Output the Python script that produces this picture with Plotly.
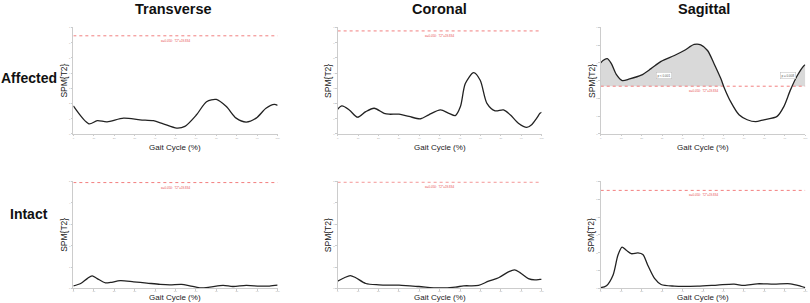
import plotly.graph_objects as go
import numpy as np

FONT = "Arial, Liberation Sans, sans-serif"

col_titles = ["Transverse", "Coronal", "Sagittal"]
row_titles = ["Affected", "Intact"]

# Affected row
trans_aff_x = [0, 7.6, 11.7, 16.5, 24.6, 32.7, 39.2, 44, 50.6, 54.6, 60.3, 65.2, 70, 74.9, 79.7, 84.6, 89.5, 94.3, 98.4, 100]
trans_aff_y = [1.84, 0.67, 0.87, 0.80, 1.04, 0.93, 0.87, 0.67, 0.39, 0.50, 1.26, 2.12, 2.27, 1.80, 1.04, 0.78, 1.04, 1.69, 1.95, 1.88]
trans_aff_thr = 6.45

cor_aff_x = [0, 2.1, 5.7, 9.8, 13.8, 17.9, 22.8, 25.2, 30.1, 35, 40.7, 44.7, 50.4, 54.5, 57.7, 60.2, 62.6, 66.7, 69.9, 73.2, 77.2, 81.3, 84.6, 88.6, 92.7, 95.1, 97.6, 99.2, 100]
cor_aff_y = [1.62, 1.84, 1.58, 1.10, 1.47, 1.69, 1.36, 1.30, 1.30, 1.15, 1.0, 1.26, 1.58, 1.36, 1.21, 1.80, 3.31, 4.03, 3.53, 2.01, 1.52, 1.58, 1.26, 0.71, 0.43, 0.61, 1.04, 1.36, 1.43]
cor_aff_thr = 6.77

sag_aff_x = [0, 1.1, 3.2, 5.2, 7.6, 10.5, 14.1, 19.8, 24.6, 29.5, 36, 40.8, 45.7, 48.9, 52.2, 55.4, 58.7, 60.3, 63.5, 67.6, 71.6, 75.7, 79.7, 86.2, 89.5, 92.7, 95.9, 99.2, 100]
sag_aff_y = [4.0, 4.14, 4.24, 3.96, 3.36, 3.01, 3.10, 3.31, 3.68, 4.09, 4.42, 4.70, 5.04, 5.02, 4.70, 3.96, 3.12, 2.62, 1.82, 1.08, 0.80, 0.69, 0.80, 0.99, 1.54, 2.47, 3.25, 3.83, 3.90]
sag_aff_thr = 2.69

# Intact row
trans_int_x = [0, 3.6, 6.8, 9.2, 11.7, 15.7, 18.2, 23, 29.5, 36, 42.5, 47.3, 53, 57, 61.9, 66.8, 73.3, 78.1, 84.6, 91.1, 96, 100]
trans_int_y = [0.12, 0.23, 0.46, 0.59, 0.46, 0.26, 0.28, 0.36, 0.31, 0.25, 0.19, 0.17, 0.19, 0.12, 0.03, 0.06, 0.14, 0.09, 0.14, 0.11, 0.11, 0.15]
trans_int_thr = 4.95

cor_int_x = [0, 3.3, 6.2, 8.9, 13.8, 20.3, 30.1, 39.8, 49.6, 57.7, 61.8, 69.1, 74, 78.9, 83.7, 86.7, 89.4, 93.5, 96.7, 99.2, 100]
cor_int_y = [0.34, 0.50, 0.60, 0.50, 0.23, 0.17, 0.15, 0.09, 0.02, 0.06, 0.12, 0.14, 0.34, 0.50, 0.77, 0.87, 0.74, 0.46, 0.40, 0.42, 0.42]
cor_int_thr = 4.97

sag_int_x = [0, 2.8, 6, 8.4, 10.4, 12.5, 14.9, 18.2, 20.6, 23, 26.3, 29.5, 36, 47.3, 57, 65.2, 70, 76.5, 84.6, 92.7, 97.6, 100]
sag_int_y = [0.04, 0.15, 0.74, 1.86, 2.32, 2.14, 1.95, 1.99, 1.90, 1.30, 0.56, 0.22, 0.13, 0.13, 0.19, 0.24, 0.17, 0.26, 0.24, 0.26, 0.13, 0.04]
sag_int_thr = 5.50

y_max = [[7, 7, 6], [5, 5, 6]]
x_ticks = [0, 10, 20, 30, 40, 50, 60, 70, 80, 90, 100]

thr_label = "α=0.050:  T2*=19.834"
cluster_labels = ["p < 0.001", "p = 0.008"]
cluster_label_x = [31, 91.6]

panels = [
    [(trans_aff_x, trans_aff_y, trans_aff_thr), (cor_aff_x, cor_aff_y, cor_aff_thr), (sag_aff_x, sag_aff_y, sag_aff_thr)],
    [(trans_int_x, trans_int_y, trans_int_thr), (cor_int_x, cor_int_y, cor_int_thr), (sag_int_x, sag_int_y, sag_int_thr)],
]

W, H = 810, 303
col_px = [(72.7, 278), (338.3, 543.3), (602.7, 808.3)]
row_px = [(26.7, 134.3), (182.3, 290.3)]
xtitle_off = [14, 9.6]

fig = go.Figure()
layout = dict(width=W, height=H, margin=dict(l=0, r=0, t=0, b=0),
              plot_bgcolor="white", paper_bgcolor="white", showlegend=False,
              font=dict(family=FONT))
annotations = []

idx = 0
for r in range(2):
    for c in range(3):
        idx += 1
        xs, ys, thr = panels[r][c]
        xa = "x" if idx == 1 else f"x{idx}"
        ya = "y" if idx == 1 else f"y{idx}"
        xkey = "xaxis" if idx == 1 else f"xaxis{idx}"
        ykey = "yaxis" if idx == 1 else f"yaxis{idx}"
        x0, x1 = col_px[c]
        y0, y1 = row_px[r]
        layout[xkey] = dict(domain=[x0 / W, x1 / W], range=[0, 100], anchor=ya,
                            showgrid=False, zeroline=False, showline=True,
                            linecolor="#cccccc", linewidth=1, ticks="outside",
                            ticklen=1.5, tickcolor="#cccccc", tickvals=x_ticks,
                            ticklabelstandoff=-2 if r == 1 else 0,
                            tickfont=dict(size=2.5, color="#aaa"))
        layout[ykey] = dict(domain=[1 - y1 / H, 1 - y0 / H], range=[0, y_max[r][c]],
                            anchor=xa, showgrid=False, zeroline=False, showline=True,
                            linecolor="#cccccc", linewidth=1, ticks="outside",
                            ticklen=1.5, tickcolor="#cccccc", dtick=1,
                            tickfont=dict(size=2.5, color="#aaa"))
        # suprathreshold fill (sagittal affected)
        if r == 0 and c == 2:
            xs_a = np.array(xs, float)
            ys_a = np.array(ys, float)
            fx, fy = [], []
            for i in range(len(xs_a)):
                if i > 0 and (ys_a[i - 1] - thr) * (ys_a[i] - thr) < 0:
                    t = (thr - ys_a[i - 1]) / (ys_a[i] - ys_a[i - 1])
                    fx.append(xs_a[i - 1] + t * (xs_a[i] - xs_a[i - 1]))
                    fy.append(thr)
                fx.append(xs_a[i])
                fy.append(max(ys_a[i], thr))
            fig.add_trace(go.Scatter(x=[0, 100], y=[thr, thr], mode="lines",
                                     line=dict(width=0), xaxis=xa, yaxis=ya,
                                     hoverinfo="skip"))
            fig.add_trace(go.Scatter(x=fx, y=fy, mode="lines",
                                     line=dict(width=0, shape="spline", smoothing=0.6),
                                     fill="tonexty", fillcolor="#d9d9d9",
                                     xaxis=xa, yaxis=ya, hoverinfo="skip"))
            for lab, lx in zip(cluster_labels, cluster_label_x):
                annotations.append(dict(x=lx, y=thr + 0.6, xref=xa, yref=ya,
                                        text=lab, showarrow=False, xanchor="center",
                                        font=dict(size=3, color="#555"),
                                        bgcolor="white", bordercolor="#bbb",
                                        borderwidth=0.5, borderpad=1))
        # threshold
        fig.add_trace(go.Scatter(x=[0, 100], y=[thr, thr], mode="lines",
                                 line=dict(color="#f07070", width=0.9, dash="dot"),
                                 xaxis=xa, yaxis=ya, hoverinfo="skip"))
        annotations.append(dict(x=50, y=thr, xref=xa, yref=ya, text=thr_label,
                                showarrow=False, yshift=-5, xanchor="center",
                                font=dict(size=3, color="#e85050")))
        # SPM curve
        fig.add_trace(go.Scatter(x=xs, y=ys, mode="lines",
                                 line=dict(color="#222", width=1.3, shape="spline", smoothing=0.8),
                                 xaxis=xa, yaxis=ya))
        # axis titles
        annotations.append(dict(x=(x0 - 9.5) / W, y=1 - ((y0 + y1) / 2) / H,
                                xref="paper", yref="paper", text="SPM{T2}",
                                xanchor="center", yanchor="middle",
                                textangle=-90, showarrow=False,
                                font=dict(size=8.5, color="#222")))
        annotations.append(dict(x=((x0 + x1) / 2) / W, y=1 - (y1 + xtitle_off[r]) / H,
                                xref="paper", yref="paper", text="Gait Cycle (%)",
                                xanchor="center", yanchor="middle", borderpad=0,
                                showarrow=False, font=dict(size=8, color="#222")))

col_centers = [173, 441, 706]
for t, cx in zip(col_titles, col_centers):
    annotations.append(dict(x=cx / W, y=1 - 8 / H, xref="paper", yref="paper",
                            text=f"<b>{t}</b>", showarrow=False,
                            xanchor="center", yanchor="middle",
                            font=dict(size=14.5, color="#111")))
row_pos = [(28, 78), (28.5, 215.5)]
for t, (rx, ry) in zip(row_titles, row_pos):
    annotations.append(dict(x=rx / W, y=1 - ry / H, xref="paper", yref="paper",
                            text=f"<b>{t}</b>", showarrow=False,
                            xanchor="center", yanchor="middle",
                            font=dict(size=14, color="#111")))

layout["annotations"] = annotations
fig.update_layout(**layout)
fig.write_html("out.html", config={"displayModeBar": False},
               post_script="document.body.style.margin='0';")
